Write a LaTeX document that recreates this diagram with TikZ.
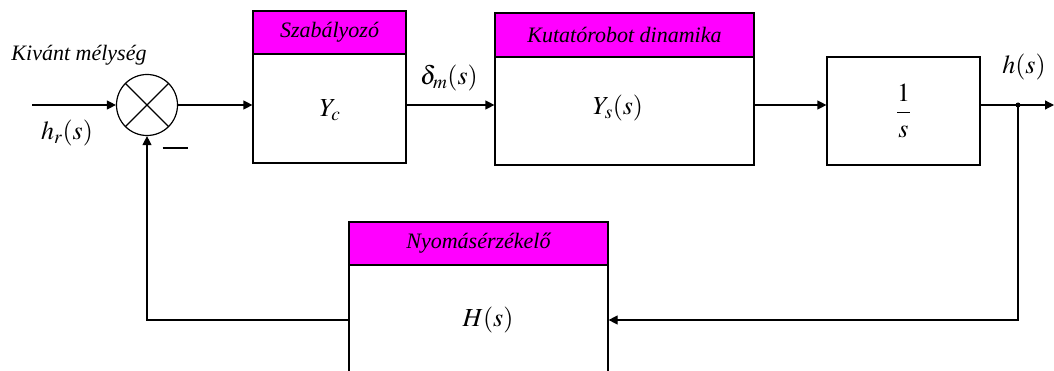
\documentclass[tikz,border=0pt]{standalone}
\usepackage{amsmath}
\usepackage{mathptmx}
\usepackage[no-math]{fontspec}
\setmainfont{Liberation Serif}
\usetikzlibrary{arrows.meta}
\definecolor{hdr}{RGB}{255,0,255}
\begin{document}
\begin{tikzpicture}[x=1pt,y=-1pt,
  line width=1.2pt,
  sig/.style={-{Triangle[length=9pt,width=9pt]}},
  body/.style={draw, rectangle, inner sep=0pt, fill=white},
  head/.style={draw, rectangle, fill=hdr, inner sep=0pt,
    font=\fontsize{22}{22}\selectfont\itshape},
  lbl/.style={inner sep=0pt, font=\fontsize{26}{26}\selectfont},
  note/.style={inner sep=0pt, font=\fontsize{22}{22}\selectfont\itshape}]
\useasboundingbox (0,0) rectangle (1054,371);
\clip (0,0) rectangle (1054,371);

% summing junction
\node[draw, circle, minimum size=61pt, inner sep=0pt] (sum) at (147,105) {};
\draw (sum.north east) -- (sum.south west);
\draw (sum.north west) -- (sum.south east);

% controller
\node[body, minimum width=153pt, minimum height=152pt] (c1) at (329.5,87) {};
\node[head, minimum width=153pt, minimum height=43pt] (c1h) at (329.5,32.5) {Szabályozó};
\node[lbl] (c1t) at (330,110) {$Y_c$};

% vehicle dynamics
\node[body, minimum width=259pt, minimum height=152pt] (c2) at (624.5,89) {};
\node[head, minimum width=259pt, minimum height=44pt] (c2h) at (624.5,35) {Kutatórobot dinamika};
\node[lbl] (c2t) at (618,108) {$Y_s(s)$};

% integrator
\node[body, minimum width=153pt, minimum height=108pt] (g) at (903.5,111) {};
\node[lbl] (gt) at (903.5,111) {$\dfrac{1}{s}$};

% pressure sensor
\node[body, minimum width=259pt, minimum height=152pt] (H) at (478.5,298) {};
\node[head, minimum width=259pt, minimum height=43pt] (Hh) at (478.5,243.5) {Nyomásérzékelő};
\node[lbl] (Ht) at (488,320) {$H(s)$};

% signals
\coordinate (in) at (32,105);
\coordinate (br) at (1018,105);
\coordinate (out) at (1054,105);

\draw[sig] (in) -- (sum.west);
\draw[sig] (sum.east) -- (sum.east -| c1.west);
\draw[sig] (sum.east -| c1.east) -- (sum.east -| c2.west);
\draw[sig] (sum.east -| c2.east) -- (sum.east -| g.west);
\draw[sig] (sum.east -| g.east) -- (out);
\fill (br) circle (2.5pt);
\draw[sig] (br) -- (br |- Ht) -- (Ht -| H.east);
\draw[sig] (Ht -| H.west) -- (Ht -| sum) -- (sum.south);

% labels
\node[note] (desired) at (79,55) {Kivánt mélység};
\node[lbl] (hr) at (67,133) {$h_r(s)$};
\node[inner sep=0pt] (minus) at (175,148) {\rule{25pt}{1.4pt}};
\node[lbl] (dm) at (449,78) {$\delta_m(s)$};
\node[lbl] (hs) at (1024,67) {$h(s)$};
\end{tikzpicture}
\end{document}
